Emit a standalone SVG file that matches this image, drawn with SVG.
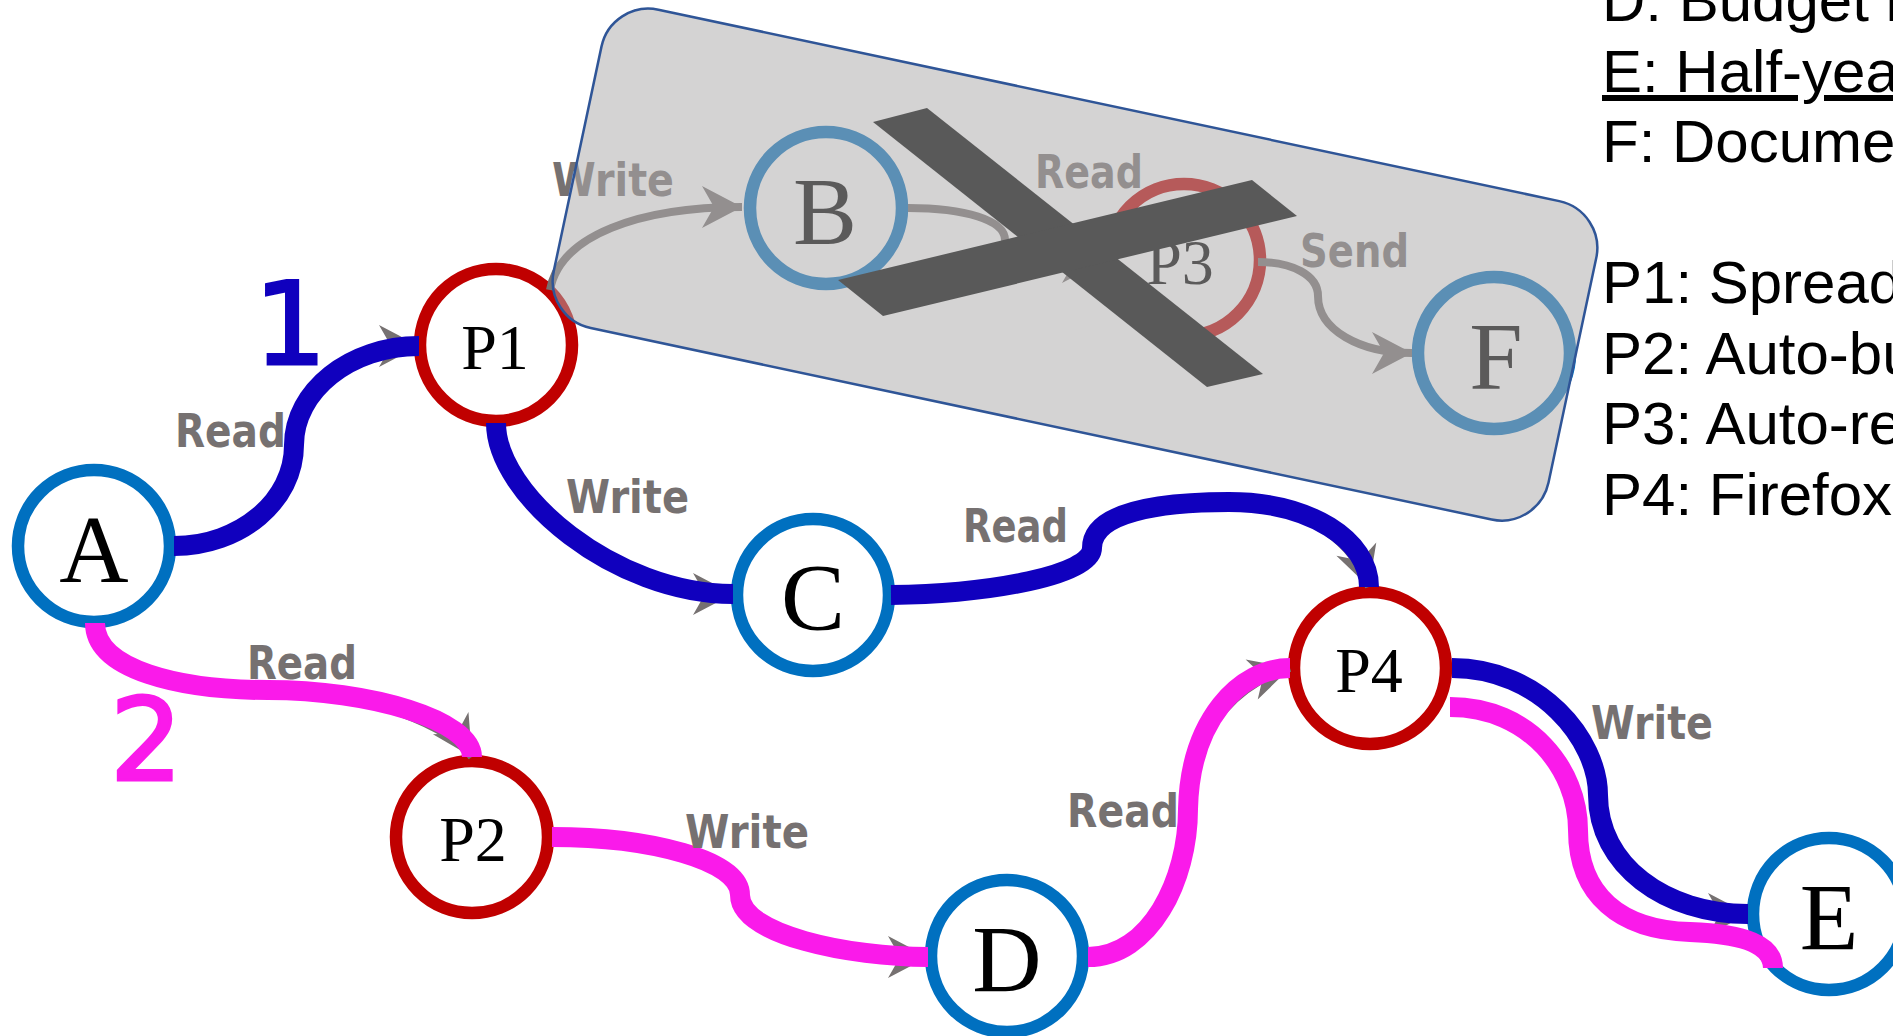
<svg xmlns="http://www.w3.org/2000/svg" width="1893" height="1036" viewBox="0 0 1893 1036">
<defs>
<style>
.ring{fill:#ffffff;stroke-width:12.5}
.doc{stroke:#0070C0}
.proc{stroke:#C00000}
.big{font-family:"Liberation Serif","Times New Roman",serif;font-size:96px;text-anchor:middle;fill:#000000}
.small{font-family:"Liberation Serif","Times New Roman",serif;font-size:64px;text-anchor:middle;fill:#000000}
.lbl{font-family:"DejaVu Sans",sans-serif;font-size:47px;font-weight:bold;fill:#767171}
.guide{fill:none;stroke:#767171;stroke-width:8;marker-end:url(#arw)}
.blue{fill:none;stroke:#1000BE;stroke-width:20}
.pink{fill:none;stroke:#FA1AEA;stroke-width:20}
.legend{font-family:"Liberation Sans",Arial,sans-serif;font-size:60px;fill:#000000}
.num{font-family:"DejaVu Sans",sans-serif;font-size:114px;stroke-width:3}
</style>
<marker id="arw" markerUnits="userSpaceOnUse" markerWidth="44" markerHeight="46" refX="40" refY="22" orient="auto" overflow="visible">
<path d="M0,1 L40,22 L0,43 L12,22 Z" fill="#767171"/>
</marker>
</defs>
<rect x="0" y="0" width="1893" height="1036" fill="#ffffff"/>

<g id="nodes">
<g id="node-A"><circle class="ring doc" cx="94" cy="546" r="76"/><text class="big" x="94" y="582">A</text></g>
<g id="node-P1"><circle class="ring proc" cx="496" cy="345" r="76"/><text class="small" x="495" y="369">P1</text></g>
<g id="node-C"><circle class="ring doc" cx="813" cy="595" r="76"/><text class="big" x="813" y="630">C</text></g>
<g id="node-P2"><circle class="ring proc" cx="472" cy="837" r="76"/><text class="small" x="473" y="861">P2</text></g>
<g id="node-D"><circle class="ring doc" cx="1007" cy="956" r="76"/><text class="big" x="1007" y="992">D</text></g>
<g id="node-P4"><circle class="ring proc" cx="1370" cy="668" r="76"/><text class="small" x="1369" y="692">P4</text></g>
<g id="node-E"><circle class="ring doc" cx="1829" cy="914" r="76"/><text class="big" x="1829" y="950">E</text></g>
<g id="node-B"><circle class="ring doc" cx="826" cy="208" r="76"/><text class="big" x="825" y="244">B</text></g>
<g id="node-P3"><circle class="ring proc" cx="1184" cy="260" r="76"/><text class="small" x="1180" y="284">P3</text></g>
<g id="node-F"><circle class="ring doc" cx="1494" cy="353" r="76"/><text class="big" x="1496" y="389">F</text></g>
</g>

<g id="connectors">
<path class="guide" d="M174,546 C240,546 294,501 294,445 C294,391 350,346 419,346"/>
<path class="guide" d="M496,423 C496,495 615,594 733,594"/>
<path class="guide" d="M891,595 C990,594 1092,575 1092,548 C1092,512 1160,502 1229,502 C1310,502 1356,548 1369,587"/>
<path class="guide" d="M95,623 C95,670 180,690 268,690 C370,690 455,730 472,757"/>
<path class="guide" d="M552,837 C650,837 740,860 740,895 C740,935 850,957 928,957"/>
<path class="guide" d="M1088,957 C1150,957 1188,880 1188,809 C1190,720 1250,680 1290,668"/>
<path class="guide" d="M1452,668 C1540,668 1598,740 1598,795 C1598,865 1665,914 1748,914"/>
<path class="guide" d="M550,290 C560,235 640,207 742,207"/>
<path class="guide" d="M908,208 C965,208 1005,220 1005,240 C1005,258 1050,262 1102,262"/>
<path class="guide" d="M1258,262 C1292,262 1318,275 1318,296 C1318,330 1360,353 1412,353"/>

<path class="blue" d="M174,546 C240,546 294,501 294,445 C294,391 350,346 419,346"/>
<path class="blue" d="M496,423 C496,495 615,594 733,594"/>
<path class="blue" d="M891,595 C990,594 1092,575 1092,548 C1092,512 1160,502 1229,502 C1310,502 1369,540 1369,587"/>
<path class="blue" d="M1452,668 C1540,668 1598,740 1598,795 C1598,865 1665,914 1748,914"/>
<path class="pink" d="M95,623 C95,670 180,690 268,690 C370,690 472,720 472,757"/>
<path class="pink" d="M552,837 C650,837 740,860 740,895 C740,935 850,957 928,957"/>
<path class="pink" d="M1088,957 C1150,957 1188,880 1188,809 C1190,720 1240,668 1290,668"/>
<path class="pink" d="M1450,707 C1530,707 1578,770 1578,830 C1578,895 1620,930 1690,932 C1745,934 1773,945 1773,968"/>

<text class="lbl" x="175" y="447" textLength="111" lengthAdjust="spacingAndGlyphs">Read</text>
<text class="lbl" x="566" y="513" textLength="123" lengthAdjust="spacingAndGlyphs">Write</text>
<text class="lbl" x="963" y="542" textLength="105" lengthAdjust="spacingAndGlyphs">Read</text>
<text class="lbl" x="247" y="679" textLength="110" lengthAdjust="spacingAndGlyphs">Read</text>
<text class="lbl" x="685" y="848" textLength="124" lengthAdjust="spacingAndGlyphs">Write</text>
<text class="lbl" x="1067" y="827" textLength="112" lengthAdjust="spacingAndGlyphs">Read</text>
<text class="lbl" x="1591" y="739" textLength="122" lengthAdjust="spacingAndGlyphs">Write</text>
<text class="lbl" x="552" y="196" textLength="122" lengthAdjust="spacingAndGlyphs">Write</text>
<text class="lbl" x="1035" y="188" textLength="108" lengthAdjust="spacingAndGlyphs">Read</text>
<text class="lbl" x="1300" y="267" textLength="109" lengthAdjust="spacingAndGlyphs">Send</text>

<text class="num" x="254" y="364" fill="#1000BE" stroke="#1000BE">1</text>
<text class="num" x="110" y="780" fill="#FA1AEA" stroke="#FA1AEA">2</text>
</g>

<g id="excluded-region">
<rect x="-508.5" y="-162.75" width="1017" height="325.5" rx="48" ry="48" transform="translate(1075,264.6) rotate(12)" fill="#ADABAB" fill-opacity="0.525" stroke="#2F5597" stroke-width="2.5"/>
</g>

<g id="cross" fill="#595959">
<polygon points="873,122 927,108 1263,374 1207,387"/>
<polygon points="838,280 1252,180 1297,216 883,316"/>
</g>

<g id="legend" class="legend">
<text x="1602" y="21">D: Budget r</text>
<text x="1602" y="92" text-decoration="underline">E: Half-yea</text>
<text x="1602" y="162">F: Docume</text>
<text x="1602" y="303">P1: Spread</text>
<text x="1602" y="374">P2: Auto-bu</text>
<text x="1602" y="444">P3: Auto-re</text>
<text x="1602" y="515">P4: Firefox</text>
</g>
</svg>
